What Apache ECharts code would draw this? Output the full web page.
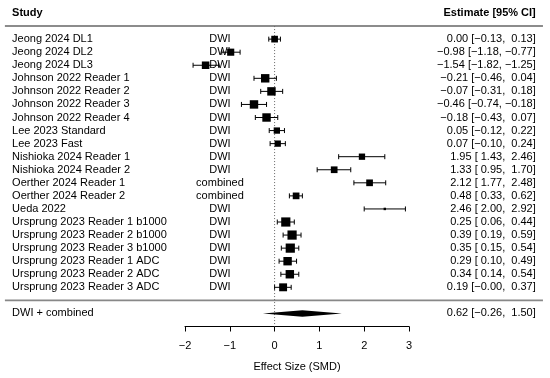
<!DOCTYPE html>
<html><head><meta charset="utf-8">
<script src="https://cdn.jsdelivr.net/npm/echarts@6/dist/echarts.min.js"></script>
<style>html,body{margin:0;padding:0;background:#fff}#c{width:550px;height:378px}</style>
</head><body><div id="c"></div>
<script>
// ---- data ----
const studies = ['Jeong 2024 DL1','Jeong 2024 DL2','Jeong 2024 DL3','Johnson 2022 Reader 1','Johnson 2022 Reader 2','Johnson 2022 Reader 3','Johnson 2022 Reader 4','Lee 2023 Standard','Lee 2023 Fast','Nishioka 2024 Reader 1','Nishioka 2024 Reader 2','Oerther 2024 Reader 1','Oerther 2024 Reader 2','Ueda 2022','Ursprung 2023 Reader 1 b1000','Ursprung 2023 Reader 2 b1000','Ursprung 2023 Reader 3 b1000','Ursprung 2023 Reader 1 ADC','Ursprung 2023 Reader 2 ADC','Ursprung 2023 Reader 3 ADC'];
const types = ['DWI','DWI','DWI','DWI','DWI','DWI','DWI','DWI','DWI','DWI','DWI','combined','combined','DWI','DWI','DWI','DWI','DWI','DWI','DWI'];
const estimates = [0.00,-0.98,-1.54,-0.21,-0.07,-0.46,-0.18,0.05,0.07,1.95,1.33,2.12,0.48,2.46,0.25,0.39,0.35,0.29,0.34,0.19];
const lower = [-0.13,-1.18,-1.82,-0.46,-0.31,-0.74,-0.43,-0.12,-0.10,1.43,0.95,1.77,0.33,2.00,0.06,0.19,0.15,0.10,0.14,-0.00];
const upper = [0.13,-0.77,-1.25,0.04,0.18,-0.18,0.07,0.22,0.24,2.46,1.70,2.48,0.62,2.92,0.44,0.59,0.54,0.49,0.54,0.37];
const weights = [0.53,0.60,0.67,0.84,0.84,0.84,0.84,0.47,0.47,0.47,0.53,0.53,0.53,0.07,1.00,1.00,1.00,0.84,0.84,0.74];
const summaryLabel = 'DWI + combined';
const summary = [0.62,-0.26,1.50];
const xTicks = [-2,-1,0,1,2,3];
const headers = ['Study','Estimate [95% CI]'];
const axisTitle = 'Effect Size (SMD)';

// ---- layout (data units of the x axis / row units) ----
const k = studies.length;
const colStudy = -5.86, colType = -1.22, colEst = 5.83;
const lineLeft = -6.02, lineRight = 5.99;
const FAM = '"Liberation Sans", Arial, sans-serif';
const FONT = '11px ' + FAM;
const BFONT = 'bold 11px ' + FAM;

function isNeg(v){ return v < 0 || Object.is(v,-0); }
function f(v){ return (isNeg(v)?'\u2212':'') + Math.abs(v).toFixed(2); }
function p(v){ return (isNeg(v)?'\u2212':' ') + Math.abs(v).toFixed(2); }
function estText(e,l,u){ return f(e) + ' [' + p(l) + ', ' + p(u) + ']'; }

const rows = studies.map((s,i)=>k-i);
const textItems = [];
studies.forEach((s,i)=>{
  textItems.push([colStudy, rows[i], s, 'left', 0]);
  textItems.push([colType, rows[i], types[i], 'center', 0]);
  textItems.push([colEst, rows[i], estText(estimates[i],lower[i],upper[i]), 'right', 0]);
});
textItems.push([colStudy, -1, summaryLabel, 'left', 0]);
textItems.push([colEst, -1, estText(summary[0],summary[1],summary[2]), 'right', 0]);
textItems.push([colStudy, k+2, headers[0], 'left', 1]);
textItems.push([colEst, k+2, headers[1], 'right', 1]);

const forestData = studies.map((s,i)=>[estimates[i],lower[i],upper[i],rows[i],weights[i]]);
// separator / reference lines: [x1, y1, x2, y2, style]
const guideLines = [
  [lineLeft, k+1, lineRight, k+1, 0],
  [lineLeft, 0, lineRight, 0, 1],
  [0, k+1, 0, -2, 2]
];
const guideStyles = [
  {stroke:'#666',lineWidth:1.6},
  {stroke:'#888',lineWidth:1.6},
  {stroke:'#666',lineWidth:1,lineDash:[1,2]}
];

const chart = echarts.init(document.getElementById('c'), null, {renderer:'canvas'});
chart.setOption({
  animation:false,
  backgroundColor:'#fff',
  grid:{left:185,width:224,top:13,height:313.5},
  xAxis:{type:'value',min:-2,max:3,interval:1,
    axisLine:{show:true,onZero:false,lineStyle:{color:'#000',width:1}},
    axisTick:{show:true,length:5,lineStyle:{color:'#000'}},
    axisLabel:{margin:14,color:'#000',fontSize:11,fontFamily:FAM,
      formatter:v=>(v<0?'\u2212'+Math.abs(v):String(v))},
    splitLine:{show:false},
    name:axisTitle,nameLocation:'middle',nameGap:35,
    nameTextStyle:{color:'#000',fontSize:11,fontFamily:FAM}
  },
  yAxis:{type:'value',min:-2,max:k+2,show:false,splitLine:{show:false}},
  series:[
    {type:'custom',clip:false,silent:true,data:guideLines,z:1,
      renderItem:(params,api)=>{
        const a = api.coord([api.value(0),api.value(1)]);
        const b = api.coord([api.value(2),api.value(3)]);
        return {type:'line',shape:{x1:a[0],y1:a[1],x2:b[0],y2:b[1]},style:guideStyles[api.value(4)]};
      }},
    {type:'custom',clip:false,silent:true,data:forestData,z:3,
      renderItem:(params,api)=>{
        const y = api.value(3);
        const c = api.coord([api.value(0),y]);
        const l = api.coord([api.value(1),y]);
        const u = api.coord([api.value(2),y]);
        const side = 9.2*Math.sqrt(api.value(4));
        const cap = 2.5;
        const st = {stroke:'#000',lineWidth:1};
        return {type:'group',children:[
          {type:'line',shape:{x1:l[0],y1:c[1],x2:u[0],y2:c[1]},style:st},
          {type:'line',shape:{x1:l[0],y1:c[1]-cap,x2:l[0],y2:c[1]+cap},style:st},
          {type:'line',shape:{x1:u[0],y1:c[1]-cap,x2:u[0],y2:c[1]+cap},style:st},
          {type:'rect',shape:{x:c[0]-side/2,y:c[1]-side/2,width:side,height:side},style:{fill:'#000'}}
        ]};
      }},
    {type:'custom',clip:false,silent:true,data:[[summary[0],summary[1],summary[2],-1]],z:3,
      renderItem:(params,api)=>{
        const y = api.value(3);
        const c = api.coord([api.value(0),y]);
        const l = api.coord([api.value(1),y]);
        const u = api.coord([api.value(2),y]);
        const h = 3.2;
        return {type:'polygon',shape:{points:[[l[0],c[1]],[c[0],c[1]-h],[u[0],c[1]],[c[0],c[1]+h]]},
          style:{fill:'#000'}};
      }},
    {type:'custom',clip:false,silent:true,data:textItems,z:2,
      renderItem:(params,api)=>{
        const d = textItems[params.dataIndex];
        const pt = api.coord([d[0],d[1]]);
        return {type:'text',x:pt[0],y:pt[1],
          style:{text:d[2],textAlign:d[3],align:d[3],textVerticalAlign:'middle',verticalAlign:'middle',
            fill:'#000',font:d[4]?BFONT:FONT}};
      }}
  ]
});
</script></body></html>
